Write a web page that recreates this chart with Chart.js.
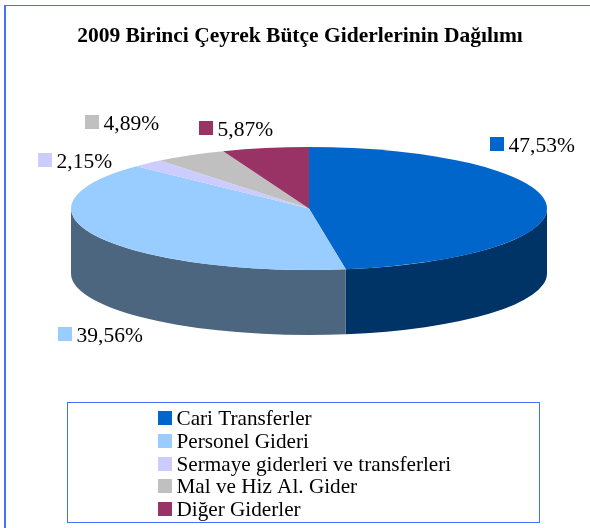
<!DOCTYPE html>
<html lang="tr">
<head>
<meta charset="utf-8">
<title>2009 Birinci Çeyrek Bütçe Giderlerinin Dağılımı</title>
<script src="https://cdn.jsdelivr.net/npm/chart.js@4"></script>
<style>html,body{margin:0;padding:0;background:#fff}canvas{display:block}</style>
</head>
<body>
<canvas id="c" width="590" height="528"></canvas>
<script>
const chartTitle = '2009 Birinci Çeyrek Bütçe Giderlerinin Dağılımı';
const categories = ['Cari Transferler', 'Personel Gideri', 'Sermaye giderleri ve transferleri', 'Mal ve Hiz Al. Gider', 'Diğer Giderler'];
const values = [47.53, 39.56, 2.15, 4.89, 5.87];
const topColors = ['#0066CC', '#99CCFF', '#CCCCFF', '#C0C0C0', '#993366'];
const sideColors = ['#003366', '#4D6680', '#666680', '#606060', '#4D1A33'];

// Layout of the tilted pie, its value labels and the legend box
const tilt = { cx: 309, cy: 208.5, rx: 238, ry: 61.5, depth: 65 };
const labelSpots = [[490, 137], [58, 327], [38, 153], [85, 115], [199, 121]];
const legendBox = { x: 67.5, y: 402.5, w: 472, h: 120, swatchX: 158, textX: 176.5, firstY: 411, step: 22.75 };
const frameColor = '#4472FF';
const textFont = '"Liberation Serif", "Times New Roman", serif';

const tiltedPie = {
  id: 'tiltedPie',
  beforeDatasetsDraw(chart) {
    const { ctx } = chart;
    const arcs = chart.getDatasetMeta(0).data;
    ctx.save();
    // extruded rim, only the front half of the pie shows
    arcs.forEach((arc, i) => {
      const from = Math.max(arc.startAngle, 0), to = Math.min(arc.endAngle, Math.PI);
      if (to <= from) return;
      ctx.beginPath();
      ctx.ellipse(tilt.cx, tilt.cy, tilt.rx, tilt.ry, 0, from, to, false);
      ctx.ellipse(tilt.cx, tilt.cy + tilt.depth, tilt.rx, tilt.ry, 0, to, from, true);
      ctx.closePath();
      ctx.fillStyle = sideColors[i];
      ctx.fill();
    });
    const a = arcs[0];
    ctx.translate(tilt.cx, tilt.cy);
    ctx.scale(tilt.rx / a.outerRadius, tilt.ry / a.outerRadius);
    ctx.translate(-a.x, -a.y);
  },
  afterDatasetsDraw(chart) {
    const { ctx, width, height } = chart;
    ctx.restore();
    ctx.save();
    // outer frame, open at the right and bottom edges
    ctx.fillStyle = frameColor;
    ctx.fillRect(4, 5, 2, height - 5);
    ctx.fillRect(4, 5, width - 4, 1);
    ctx.strokeStyle = frameColor;
    ctx.lineWidth = 1;
    ctx.textBaseline = 'alphabetic';
    ctx.textAlign = 'left';
    // value labels
    ctx.font = '21.5px ' + textFont;
    values.forEach((v, i) => {
      const [x, y] = labelSpots[i];
      ctx.fillStyle = topColors[i];
      ctx.fillRect(x, y, 14, 14);
      ctx.fillStyle = '#000';
      ctx.fillText(v.toFixed(2).replace('.', ',') + '%', x + 18.5, y + 14.5);
    });
    // legend
    const b = legendBox;
    ctx.strokeRect(b.x, b.y, b.w, b.h);
    ctx.font = '21.2px ' + textFont;
    categories.forEach((name, i) => {
      const y = Math.round(b.firstY + i * b.step);
      ctx.fillStyle = topColors[i];
      ctx.fillRect(b.swatchX, y, 14, 14);
      ctx.fillStyle = '#000';
      ctx.fillText(name, b.textX, y + 14);
    });
    ctx.restore();
  }
};

new Chart(document.getElementById('c'), {
  type: 'pie',
  data: {
    labels: categories,
    datasets: [{ data: values, backgroundColor: topColors, borderWidth: 0 }]
  },
  options: {
    responsive: false,
    animation: false,
    rotation: 0,
    layout: { padding: { left: 10, top: 24 } },
    plugins: {
      legend: { display: false },
      tooltip: { enabled: false },
      title: {
        display: true,
        text: chartTitle,
        color: '#000',
        font: { family: textFont, size: 21.5, weight: 'bold' },
        padding: { top: 0, bottom: 10 }
      }
    }
  },
  plugins: [tiltedPie]
});
</script>
</body>
</html>
